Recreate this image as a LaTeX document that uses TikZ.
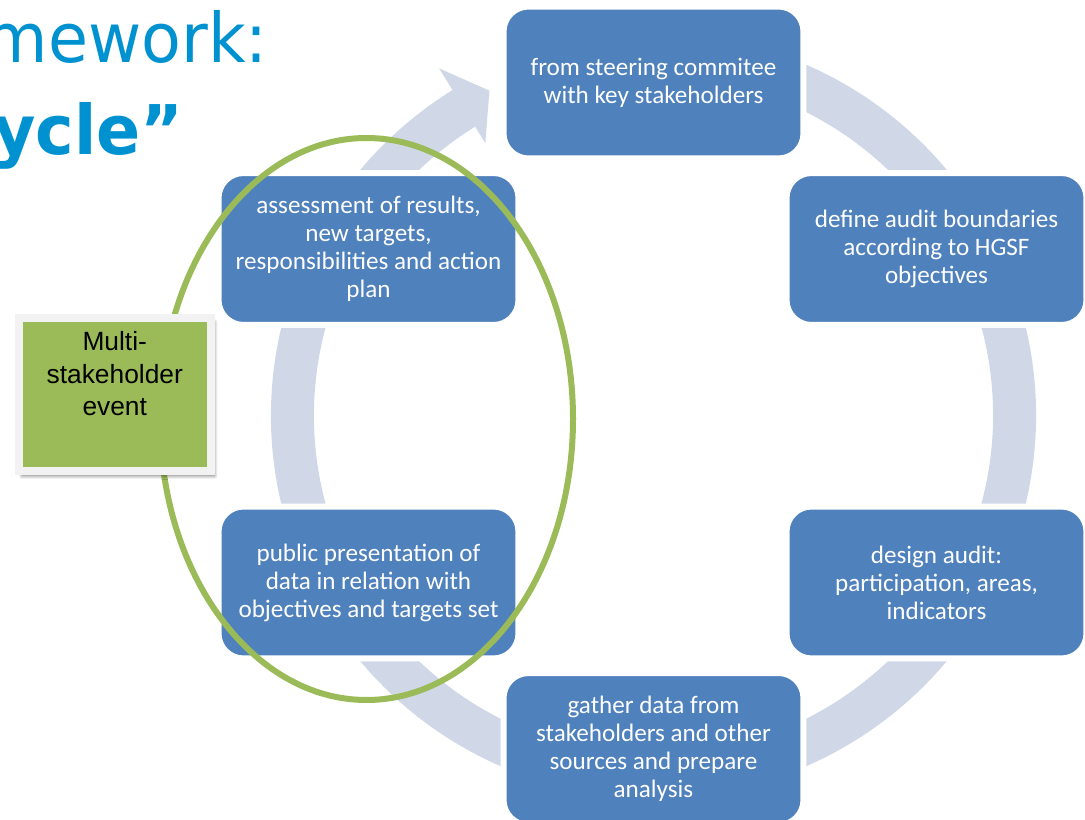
\documentclass[tikz,border=0pt]{standalone}
\usepackage{fontspec}
\setmainfont{Carlito}
\newfontfamily\titlefont[FakeStretch=0.95]{DejaVu Sans}
\newfontfamily\labelfont{Liberation Sans}
\usetikzlibrary{calc,positioning,shadows.blur}
\definecolor{stageblue}{RGB}{79,129,189}
\definecolor{ringblue}{RGB}{208,216,232}
\definecolor{eventgreen}{RGB}{155,187,89}
\definecolor{titleblue}{RGB}{0,146,208}
\definecolor{framegray}{RGB}{242,242,242}

\begin{document}
\begin{tikzpicture}[x=0.02cm, y=0.02cm,
  stage/.style={rectangle, rounded corners=0.5cm, fill=stageblue, draw=white, line width=0.12cm,
    minimum width=6cm, minimum height=3.04cm, align=center, text=white, inner sep=2pt,
    font=\fontsize{14.3}{15.9}\selectfont},
  heading/.style={anchor=base east, inner sep=0pt, text=titleblue, font=\titlefont\fontsize{39}{44}\selectfont},
  eventbox/.style={rectangle, fill=eventgreen, draw=framegray, line width=0.16cm,
    minimum width=3.85cm, minimum height=3.08cm,
    blur shadow={shadow xshift=0.07cm, shadow yshift=-0.09cm, shadow blur steps=8, shadow opacity=50}},
  eventtext/.style={inner sep=0pt, align=center, font=\labelfont\fontsize{15}{18.3}\selectfont}]
\useasboundingbox (0,0) rectangle (1085,819);
\clip (0,0) rectangle (1085,819);

\node[heading] (title1) at (268,756) {mework:};
\node[heading, font=\titlefont\bfseries\fontsize{39}{44}\selectfont] (title2) at (184,664) {ycle”};

% cycle arrow behind the stages
\coordinate (ctr) at (653.5,403.5);
\draw[ringblue, line width=0.86cm] ($(ctr)+(75:361)$) arc[start angle=75, end angle=-238.6, radius=361];
\fill[ringblue] ($(ctr)+(121.7:320)$) -- ($(ctr)+(116.8:364)$) -- ($(ctr)+(121.7:408)$) -- cycle;

\node[stage] (steering) at (653.5,736.5) {from steering commitee\\with key stakeholders};
\node[stage] (boundaries) at (936.5,570) {define audit boundaries\\according to HGSF\\objectives};
\node[stage] (design) at (936.5,236.5) {design audit:\\participation, areas,\\indicators};
\node[stage] (gather) at (653.5,70) {gather data from\\stakeholders and other\\sources and prepare\\analysis};
\node[stage] (presentation) at (368.5,236.5) {public presentation of\\data in relation with\\objectives and targets set};
\node[stage] (assessment) at (368.5,570) {assessment of results,\\new targets,\\responsibilities and action\\plan};

\draw[eventgreen, line width=0.12cm] (366.5,400) ellipse [x radius=206.5, y radius=281];

\node[eventbox] (event) at (114.75,424.5) {};
\node[eventtext, below=0.36cm of event.north] (eventtxt) {Multi-\\stakeholder\\event};
\end{tikzpicture}
\end{document}
